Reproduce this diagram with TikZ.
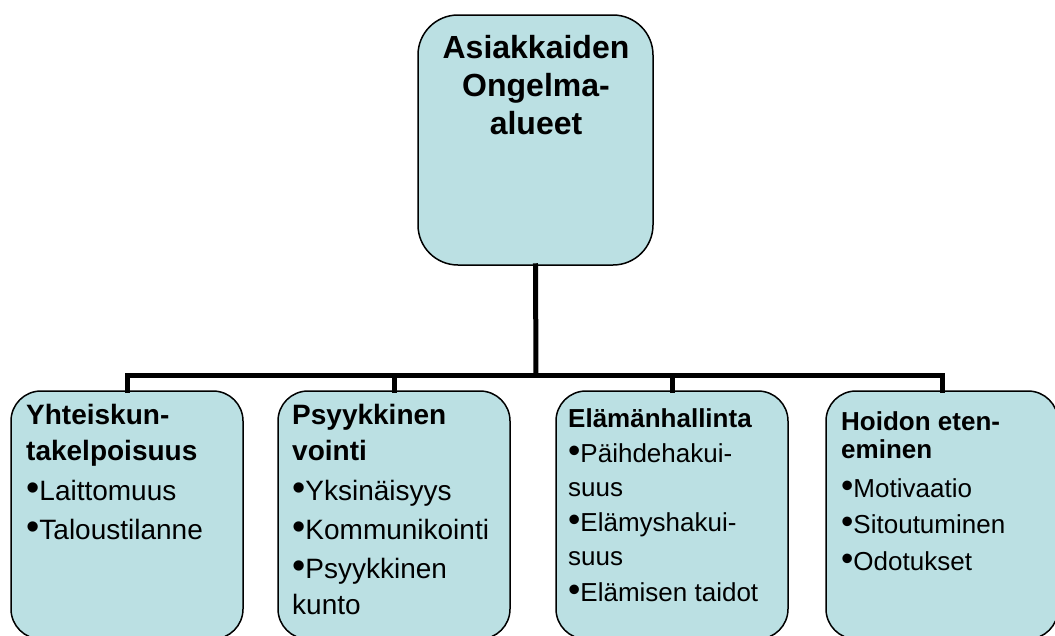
\documentclass[tikz,border=0pt]{standalone}
\usepackage{fontspec}
\usepackage{graphicx}
\setmainfont{Liberation Sans}
\definecolor{boxfill}{RGB}{187,224,227}
\tikzset{
  orgbox/.style={draw=black, line width=1.5pt, fill=boxfill, rounded corners=#1,
                 inner sep=0pt, minimum width=232pt, minimum height=248pt},
  orgbox/.default=30pt,
  conn/.style={draw=black, line width=5pt, line join=miter, line cap=rect},
  boxtext/.style={anchor=north west, align=left, inner sep=0pt},
  bigtext/.style={font=\fontsize{28}{36}\selectfont},
  smalltext/.style={font=\fontsize{26}{34}\selectfont},
}
\newcommand{\bul}{\scalebox{1.35}{\textbullet}}
\begin{document}
\begin{tikzpicture}[x=1pt, y=-1pt]
  \useasboundingbox (0,0) rectangle (1055,635);
  \begin{scope}
  \clip (0,0) rectangle (1055,635);

  % root box
  \node[orgbox=40pt, minimum width=235pt, minimum height=250pt] (root) at (535.5,140) {};

  % child boxes
  \node[orgbox] (b1) at (127,515) {};
  \node[orgbox] (b2) at (394,515) {};
  \node[orgbox] (b3) at (672,515) {};
  \node[orgbox] (b4) at (942,515) {};

  % connectors
  \coordinate (bus) at (536,375);
  \draw[conn] (root.south) -- (bus);
  \draw[conn] (b1.north) -- (b1.north |- bus) -- (b4.north |- bus) -- (b4.north);
  \draw[conn] (b2.north) -- (b2.north |- bus);
  \draw[conn] (b3.north) -- (b3.north |- bus);
  \end{scope}

  % box contents
  \node[anchor=north, align=center, inner sep=0pt,
        font=\fontsize{32}{38}\selectfont\bfseries] (roottext) at (536,35)
        {Asiakkaiden\\Ongelma-\\alueet};
  \node[boxtext, bigtext] (t1) at (26,404)
    {\textbf{Yhteiskun-}\\\textbf{takelpoisuus}\\[4pt]\bul Laittomuus\\[3pt]\bul Taloustilanne};
  \node[boxtext, bigtext] (t2) at (292,404)
    {\textbf{Psyykkinen}\\\textbf{vointi}\\[4pt]\bul Yksinäisyys\\[3pt]\bul Kommunikointi\\[3pt]\bul Psyykkinen\\kunto};
  \node[boxtext, smalltext] (t3) at (568,408)
    {\textbf{Elämänhallinta}\\[1pt]\bul Päihdehakui-\\suus\\[1pt]\bul Elämyshakui-\\suus\\[2pt]\bul Elämisen taidot};
  \node[boxtext, smalltext] (t4) at (841,411)
    {\textbf{Hoidon eten-}\\[-6pt]\textbf{eminen}\\[5pt]\bul Motivaatio\\[2pt]\bul Sitoutuminen\\[3pt]\bul Odotukset};
\end{tikzpicture}
\end{document}
